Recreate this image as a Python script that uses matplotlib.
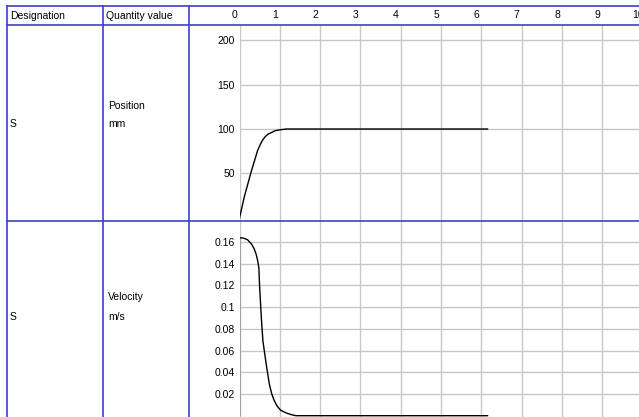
import matplotlib
matplotlib.use("Agg")
import matplotlib.pyplot as plt
from matplotlib.lines import Line2D
from matplotlib.transforms import ScaledTranslation

plt.rcParams['font.family'] = ['Liberation Sans', 'DejaVu Sans']

# table text
header = ["Designation", "Quantity value"]
designations = ["S", "S"]
quantities = [("Position", "mm"), ("Velocity", "m/s")]
x_ticks = [0, 1, 2, 3, 4, 5, 6, 7, 8, 9, 10]

# position curve (s, mm)
pos_t = [0, 0.12, 0.29, 0.45, 0.52, 0.58, 0.64, 0.70, 0.79, 0.88, 0.99, 1.16, 6.15]
pos_v = [0, 24, 52, 76, 83, 88, 91.5, 94, 96, 98, 99, 100, 100]
pos_ticks = [50, 100, 150, 200]

# velocity curve (s, m/s)
vel_t = [0, 0, 0.1, 0.2, 0.3, 0.36, 0.41, 0.45, 0.48, 0.50, 0.54, 0.58, 0.66,
         0.74, 0.80, 0.86, 0.93, 1.02, 1.16, 1.28, 1.40, 6.15]
vel_v = [0, 0.164, 0.1635, 0.162, 0.158, 0.154, 0.149, 0.143, 0.136, 0.118,
         0.091, 0.069, 0.048, 0.029, 0.020, 0.014, 0.009, 0.005, 0.0025,
         0.001, 0, 0]
vel_ticks = [0.02, 0.04, 0.06, 0.08, 0.1, 0.12, 0.14, 0.16]
vel_labels = ["0.02", "0.04", "0.06", "0.08", "0.1", "0.12", "0.14", "0.16"]

W, H = 639, 417
blue = '#4040c8'
grid = '#c8c8c8'
fs = 7.5


def fx(x):
    return x / W


def fy(y):
    return 1 - y / H


fig = plt.figure(figsize=(W / 100, H / 100), dpi=100)
fig.patch.set_facecolor('white')

x0 = 239.5
xscale = 40.33
ax_w = 10 * xscale

ax1 = fig.add_axes([fx(x0), fy(221), ax_w / W, 196 / H])
ax2 = fig.add_axes([fx(x0), 0, ax_w / W, 196 / H])

for ax in (ax1, ax2):
    ax.set_xlim(0, 10)
    ax.set_xticks(x_ticks)
    ax.grid(True, color=grid, linewidth=1.0)
    ax.set_axisbelow(True)
    for sp in ax.spines.values():
        sp.set_visible(False)
    ax.tick_params(length=0, labelsize=fs, pad=3.3)

ax1.plot(pos_t, pos_v, color='black', linewidth=1.0)
ax1.set_ylim(-3.4, 216.9)
ax1.set_yticks(pos_ticks)
ax1.xaxis.tick_top()
ax1.tick_params(axis='x', pad=3.6)
off = ScaledTranslation(-5 / 100, 0, fig.dpi_scale_trans)
for lbl in ax1.get_xticklabels():
    lbl.set_transform(lbl.get_transform() + off)

ax2.plot(vel_t, vel_v, color='black', linewidth=1.0)
ax2.set_ylim(-0.0012, 0.1793)
ax2.set_yticks(vel_ticks)
ax2.set_yticklabels(vel_labels)
ax2.set_xticklabels([])

# table frame
for x in (7, 103, 189):
    fig.add_artist(Line2D([fx(x), fx(x)], [fy(6), fy(H + 2)], color=blue,
                          linewidth=1.2, transform=fig.transFigure, zorder=5))
for y in (6, 25, 221):
    fig.add_artist(Line2D([fx(7), fx(W + 2)], [fy(y), fy(y)], color=blue,
                          linewidth=1.2, transform=fig.transFigure, zorder=5))

fig.text(fx(10), fy(16), header[0], fontsize=fs, va='center', ha='left')
fig.text(fx(106), fy(16), header[1], fontsize=fs, va='center', ha='left')

row_y = [(106, 124), (297, 317)]
for (name, unit), des, (ya, yb) in zip(quantities, designations, row_y):
    fig.text(fx(10), fy(yb), des, fontsize=fs, va='center', ha='left')
    fig.text(fx(108), fy(ya), name, fontsize=fs, va='center', ha='left')
    fig.text(fx(108), fy(yb), unit, fontsize=fs, va='center', ha='left')

fig.savefig('out.png', dpi=100)
